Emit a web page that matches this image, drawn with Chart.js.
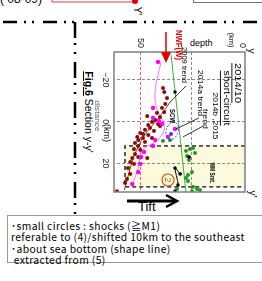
<!DOCTYPE html>
<html>
<head>
<meta charset="utf-8">
<script src="https://cdn.jsdelivr.net/npm/chart.js@4/dist/chart.umd.min.js"></script>
<style>
  html, body { margin: 0; padding: 0; background: #fff; }
  body { width: 262px; height: 281px; position: relative; overflow: hidden; font-family: "Liberation Sans", Arial, sans-serif; color: #000; }
  .abs { position: absolute; white-space: nowrap; }
  .rot { transform: translate(-50%, -50%) rotate(90deg); }
  #chartBox { position: absolute; left: 258px; top: 28px; width: 176px; height: 170px; transform-origin: 0 0; transform: rotate(90deg); }
  #topLabel { left: 0; top: -8px; font-size: 12px; }
  #greyBox { left: 193px; top: -20px; width: 80px; height: 21px; border: 1.5px solid #777; }
  #depthLbl { left: 190px; top: 38px; font-size: 9px; }
  #figTitle { left: 89px; top: 112px; font-size: 10.5px; }
  #figTitle b { text-decoration: underline; }
  #tilt { left: 138px; top: 199px; font-size: 13px; }
  #note { left: 7px; top: 215px; width: 270px; height: 48px; border: 1px solid #999; background: #fff;
          font-family: "Noto Sans CJK JP", sans-serif; font-size: 10.3px; letter-spacing: 0.38px; line-height: 11.3px; padding: 4px 0 0 3px; box-sizing: border-box; }
</style>
</head>
<body>
<div id="topLabel" class="abs">( 08-09)</div>
<div id="greyBox" class="abs"></div>
<svg class="abs" width="262" height="281" style="left:0;top:0">
  <!-- marco rojo de arriba -->
  <polyline points="52,-2 52,2 135,2" fill="none" stroke="#e04040" stroke-width="1"/>
  <circle cx="135" cy="1" r="3" fill="#e00000"/>
  <!-- lineas de punto y raya -->
  <line x1="0" y1="22" x2="262" y2="22" stroke="#000" stroke-width="2.5" stroke-dasharray="14,7,2,6,2,9" stroke-dashoffset="-3"/>
  <line x1="75" y1="22" x2="75" y2="215" stroke="#000" stroke-width="2.5" stroke-dasharray="16,5,2,7,2,8"/>
  <!-- flecha tilt -->
  <line x1="127" y1="201" x2="176" y2="201" stroke="#000" stroke-width="3"/>
  <polyline points="166,195 177,201 166,207" fill="none" stroke="#000" stroke-width="2.5"/>
</svg>
<div class="abs rot" style="left:137px;top:11px;font-size:10px;">Y'</div>
<div id="depthLbl" class="abs">depth</div>
<div id="figTitle" class="abs rot"><b>Fig.6</b> Section y-y'</div>
<div id="tilt" class="abs">Tift</div>
<div id="chartBox"><canvas id="sectionChart" width="176" height="170"></canvas></div>
<div id="note" class="abs">･small circles : shocks (≧M1)<br>referable to (4)/shifted 10km to the southeast<br>･about sea bottom (shape line)<br>&nbsp;extracted from (5)</div>

<script>
// Datos: [distancia (km), profundidad (km)]
const shocks2009 = [
  [-16.1, 39.0], [-14.2, 38.5], [-11.3, 37.1], [-8.5, 38.0], [-6.6, 39.5], [-4.6, 38.5],
  [-4.2, 42.0], [-2.2, 40.5], [-2.7, 46.8], [-0.8, 42.9], [0.1, 44.4], [1.1, 41.5],
  [1.6, 46.3], [2.1, 40.5], [3.0, 45.4], [3.9, 47.8], [4.4, 43.4], [5.4, 50.2],
  [5.9, 48.8], [6.4, 46.3], [7.3, 51.7], [7.8, 48.8], [7.8, 44.4], [8.8, 51.2],
  [9.7, 47.8], [10.2, 52.7], [11.6, 51.2], [13.1, 53.2], [13.5, 50.2], [15.5, 52.7],
  [16.9, 51.2], [17.4, 54.1], [17.4, 46.8], [19.3, 55.1], [20.2, 53.2], [22.2, 56.1],
  [25.0, 55.1], [27.4, 56.6], [29.3, 57.6], [33.3, 61.5]
];
const shocks2014a = [
  [-28.6, 41.5], [-6.6, 43.9], [-1.8, 43.9], [-0.3, 41.0], [1.1, 39.5], [3.5, 33.2],
  [7.3, 36.6], [8.8, 42.9], [11.6, 43.9], [14.5, 48.3], [16.9, 49.8], [20.2, 50.2],
  [24.1, 51.2], [29.8, 54.1]
];
const shocks2014b2015 = [
  [9.2, 39.0], [8.8, 35.6], [14.0, 27.8], [13.1, 25.9], [12.6, 24.4], [15.0, 23.4],
  [16.4, 27.3], [18.3, 26.3], [24.1, 24.9], [25.5, 26.8], [26.9, 27.8], [28.4, 26.8],
  [31.2, 24.4], [32.2, 22.4], [32.7, 21.0], [33.3, 24.9], [32.2, 32.2]
];
const shocks201410 = [[-14.2, 33.2], [16.9, 26.3], [22.2, 33.2], [25.0, 30.7], [30.3, 31.7], [33.3, 33.2]];
const shortCircuitPath = [[25.0, 30.7], [22.2, 33.2], [30.3, 31.7], [33.3, 33.2]];
const scwShocks = [[5.9, 35.1]];
const trend2009 = [
  [-9.4, 35.6], [-4.6, 39.0], [-0.8, 42.0], [3.0, 45.4], [6.8, 48.3], [11.1, 50.7],
  [16.4, 53.2], [22.2, 55.1], [27.9, 56.6], [32.7, 58.0]
];
const trend2014a = [
  [-28.6, 40.0], [-22.3, 41.5], [-15.2, 42.9], [-9.4, 42.9], [-4.6, 41.5], [-0.3, 39.0],
  [4.0, 38.5], [8.8, 41.5], [11.1, 45.4], [13.1, 48.8], [16.4, 50.2], [22.2, 51.2], [29.3, 53.7]
];
const trend2014b = [[-31.9, 35.1], [34.1, 27.8]];
const distanceTicks = [-20, 0, 20];
const depthTicks = [0, 25, 50];
const wmSmtDistance = [11.6, 31.2];
const wmSmtDepth = 57.6;

const toXY = (arr) => arr.map(([s, d]) => ({ x: s, y: d }));
const FONT = '"Liberation Sans", Arial, sans-serif';

/** Dibuja un texto centrado, ajustado a un ancho dado */
function drawLabel(ctx, text, x, y, size, width, opts = {}) {
  ctx.save();
  ctx.font = `${opts.bold ? "bold " : ""}${size}px ${FONT}`;
  const w = ctx.measureText(text).width;
  ctx.translate(x, y);
  if (width) ctx.scale(width / w, 1);
  ctx.fillStyle = opts.color || "#000";
  ctx.textAlign = "center";
  ctx.textBaseline = "middle";
  ctx.fillText(text, 0, 0);
  if (opts.underline) ctx.fillRect(-w / 2, size * 0.6, w, 0.9);
  ctx.restore();
}

// Plugin para el recuadro WM Smt., marco y anotaciones
const sectionDecor = {
  id: "sectionDecor",
  beforeDraw(chart) {
    const { ctx, scales } = chart;
    const x = scales.x, y = scales.y;
    const x0 = x.getPixelForValue(wmSmtDistance[0]);
    const x1 = x.getPixelForValue(wmSmtDistance[1]);
    ctx.save();
    ctx.fillStyle = "#fcf9dc";
    ctx.fillRect(x0, y.top, x1 - x0, y.getPixelForValue(wmSmtDepth) - y.top);
    ctx.restore();
  },
  beforeDatasetsDraw(chart) {
    const { ctx, scales } = chart;
    const x = scales.x, y = scales.y;
    const x0 = x.getPixelForValue(wmSmtDistance[0]);
    const x1 = x.getPixelForValue(wmSmtDistance[1]);
    const yb = y.getPixelForValue(wmSmtDepth);
    ctx.save();
    ctx.strokeStyle = "#222";
    ctx.lineWidth = 1.4;
    ctx.setLineDash([4, 3]);
    ctx.beginPath();
    ctx.moveTo(x0, y.top); ctx.lineTo(x0, yb); ctx.lineTo(x1, yb); ctx.lineTo(x1, y.top);
    ctx.stroke();
    ctx.restore();
  },
  afterDatasetsDraw(chart) {
    const { ctx, chartArea: a, scales } = chart;
    const px = (s, d) => [scales.x.getPixelForValue(s), scales.y.getPixelForValue(d)];
    ctx.save();
    // marco del gráfico
    ctx.strokeStyle = "#808080";
    ctx.lineWidth = 1.5;
    ctx.strokeRect(a.left, a.top, a.right - a.left, a.bottom - a.top);
    // elipse SCW
    const [ex, ey] = px(4.4, 34.6);
    ctx.strokeStyle = "#2a48e0";
    ctx.lineWidth = 1;
    ctx.setLineDash([2, 1.5]);
    ctx.beginPath();
    ctx.ellipse(ex, ey, 4.3 * 2.09, 2.9 * 2.05, 0.3, 0, Math.PI * 2);
    ctx.stroke();
    ctx.setLineDash([]);
    // líneas indicadoras
    ctx.strokeStyle = "#000";
    ctx.lineWidth = 0.8;
    [[[-17.1, 27.8], [-9.4, 35.6]], [[-1.8, 21.5], [3.5, 32.7]], [[2.1, 19.5], [7.3, 29.3]]].forEach(([p, q]) => {
      ctx.beginPath();
      ctx.moveTo(...px(...p));
      ctx.lineTo(...px(...q));
      ctx.stroke();
    });
    // flecha NWF(W)
    const [ax0, ay] = px(-42.9, 37.6);
    const [ax1] = px(-33.3, 37.6);
    const [ax2] = px(-28.1, 37.6);
    ctx.strokeStyle = "#e00000";
    ctx.fillStyle = "#e00000";
    ctx.lineWidth = 1.5;
    ctx.beginPath(); ctx.moveTo(ax0, ay); ctx.lineTo(ax1, ay); ctx.stroke();
    ctx.beginPath(); ctx.moveTo(ax2, ay); ctx.lineTo(ax1, ay - 5); ctx.lineTo(ax1, ay + 5); ctx.closePath(); ctx.fill();
    // círculo 2
    const [cx, cy] = px(27.9, 36.6);
    ctx.strokeStyle = "#c8641e";
    ctx.lineWidth = 1.2;
    ctx.beginPath(); ctx.arc(cx, cy, 6, 0, Math.PI * 2); ctx.stroke();
    drawLabel(ctx, "2", cx, cy + 0.5, 9, 0, { color: "#c8641e" });
    ctx.restore();
  },
  afterDraw(chart) {
    const { ctx, scales } = chart;
    const px = (s, d) => [scales.x.getPixelForValue(s), scales.y.getPixelForValue(d)];
    drawLabel(ctx, "2009 trend", ...px(-27.1, 28.8), 8, 36);
    drawLabel(ctx, "2014a trend", ...px(-13.7, 21.0), 8, 46);
    drawLabel(ctx, "2014b ,2015", ...px(-2.7, 13.7), 8, 47);
    drawLabel(ctx, "trend", ...px(-1.3, 18.5), 8, 20);
    drawLabel(ctx, "short-circuit", ...px(-11.3, 8.3), 8.5, 55, { underline: true });
    drawLabel(ctx, "2014/10", ...px(-18.5, 2.4), 9.5, 40, { underline: true });
    drawLabel(ctx, "SCW", ...px(-2.7, 34.6), 7, 14, { bold: true });
    drawLabel(ctx, "WM Smt.", ...px(24.5, 15.1), 8, 21, { bold: true });
    drawLabel(ctx, "NWF(W)", ...px(-36.7, 31.7), 9, 30, { bold: true, color: "#e00000" });
    drawLabel(ctx, "(km)", ...px(-39.1, 5.9), 8, 15);
    drawLabel(ctx, "distance", ...px(-2.7, 71.2), 7.5, 31, { color: "#666" });
    drawLabel(ctx, "(km)", ...px(5.4, 66.8), 9, 0);
    drawLabel(ctx, "y", ...px(-33.8, -3.9), 10, 0);
    drawLabel(ctx, "y'", ...px(34.6, -4.4), 10, 0);
  },
};

function pointSet(data, color, radius) {
  return {
    data: toXY(data),
    backgroundColor: color,
    borderWidth: 0,
    pointRadius: radius,
    showLine: false,
  };
}

function lineSet(data, color, width) {
  return {
    data: toXY(data),
    borderColor: color,
    borderWidth: width,
    pointRadius: 0,
    showLine: true,
    tension: 0.3,
  };
}

const gridGrey = "#8a8a8a";

new Chart(document.getElementById("sectionChart").getContext("2d"), {
  type: "scatter",
  data: {
    datasets: [
      pointSet(shocks201410, "#000", 1.8),
      pointSet(scwShocks, "#2a48c0", 2),
      pointSet(shocks2014a, "#ff00ff", 2.2),
      pointSet(shocks2014b2015, "#1f9a1f", 2),
      pointSet(shocks2009, "#8b0a0a", 2),
      lineSet(shortCircuitPath, "#000", 1),
      lineSet(trend2014a, "#ff70ff", 1),
      lineSet(trend2009, "#9a3030", 1),
      lineSet(trend2014b, "#40b040", 1),
    ],
  },
  options: {
    responsive: false,
    animation: false,
    devicePixelRatio: 1,
    layout: { padding: { top: 13, right: 12, left: 0, bottom: 0 } },
    plugins: { legend: { display: false }, tooltip: { enabled: false } },
    scales: {
      x: {
        type: "linear",
        min: -33.35,
        max: 33.65,
        afterBuildTicks: (scale) => { scale.ticks = distanceTicks.map((v) => ({ value: v })); },
        afterFit: (scale) => { scale.height = 26; },
        ticks: {
          padding: 3,
          color: "#222",
          font: { size: 9, family: "Liberation Sans" },
          maxRotation: 0,
          callback: (v) => (v < 0 ? "−" + Math.abs(v) : String(v)),
        },
        grid: { color: gridGrey, lineWidth: 1, drawTicks: false },
        border: { display: false, dash: [3, 2] },
      },
      y: {
        type: "linear",
        reverse: true,
        min: -1,
        max: 63,
        afterBuildTicks: (scale) => { scale.ticks = depthTicks.map((v) => ({ value: v })); },
        afterFit: (scale) => { scale.width = 24; },
        ticks: {
          padding: 4,
          color: "#222",
          font: { size: 9, family: "Liberation Sans" },
          callback: (v) => (v === 25 ? "" : String(v)),
        },
        grid: {
          color: (c) => (c.tick && c.tick.value === 50 ? "#e06060" : c.tick && c.tick.value === 0 ? "rgba(0,0,0,0)" : gridGrey),
          lineWidth: 1,
          drawTicks: false,
        },
        border: { display: false, dash: [3, 2] },
      },
    },
  },
  plugins: [sectionDecor],
});
</script>
</body>
</html>
